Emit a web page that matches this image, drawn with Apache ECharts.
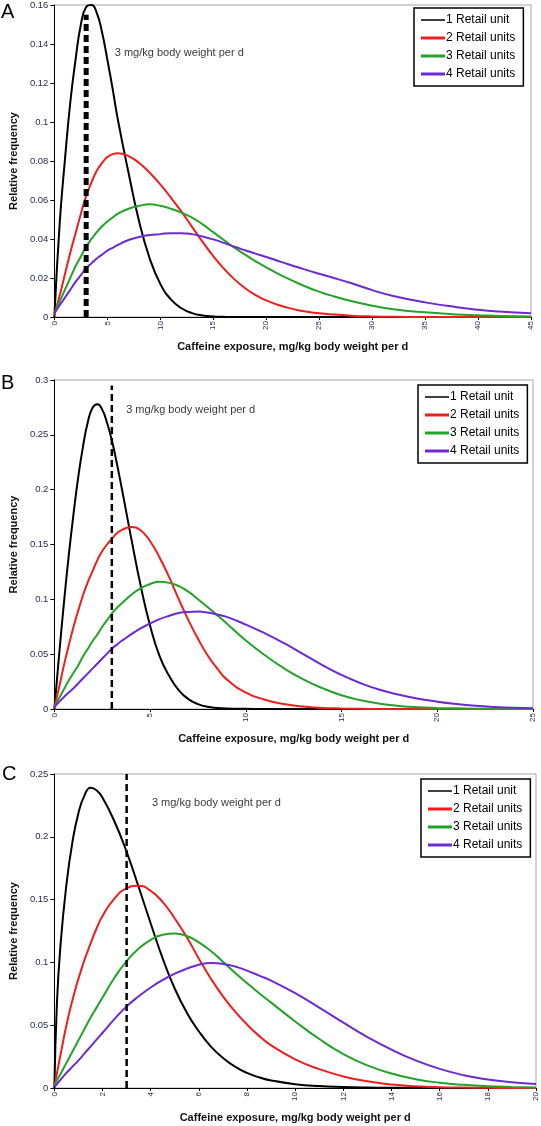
<!DOCTYPE html>
<html>
<head>
<meta charset="utf-8">
<script src="https://cdn.jsdelivr.net/npm/echarts@6/dist/echarts.min.js"></script>
<style>
html,body{margin:0;padding:0;background:#fff;}
#chart{width:541px;height:1126px;}
</style>
</head>
<body>
<div id="chart"></div>
<script>
// ---------------- DATA ----------------
const seriesNames = ['1 Retail unit', '2 Retail units', '3 Retail units', '4 Retail units'];
const panelLetters = ['A', 'B', 'C'];
const xTitle = 'Caffeine exposure, mg/kg body weight per d';
const yTitle = 'Relative frequency';
const refLabel = '3 mg/kg body weight per d';
const refDose = 3;
const refTop = [0.155, 0.295, 0.25];

// Panel A (x: 0-45)
const xA = [0,0.5,1,1.5,2,2.5,3,3.5,4,4.5,5,5.5,6,7,8,9,10,11,12,13,14,15,16,17,18,19,20,21,22,23,24,25,26,28,30,32,35,38,40,42,45];
const a1 = [0,0.048,0.081,0.11,0.132,0.15,0.159,0.16,0.156,0.146,0.132,0.117,0.101,0.074,0.049,0.030,0.017,0.009,0.0045,0.002,0.0008,0.0003,0.0001,0,0,0,0,0,0,0,0,0,0,0,0,0,0,0,0,0,0];
const a2 = [0.001,0.011,0.022,0.033,0.043,0.053,0.062,0.069,0.075,0.079,0.082,0.0835,0.084,0.0825,0.079,0.074,0.068,0.0612,0.054,0.0462,0.0385,0.0312,0.0248,0.0193,0.0148,0.0112,0.0085,0.0064,0.0048,0.0035,0.0026,0.0019,0.0014,0.0007,0.0003,0.0001,0,0,0,0,0];
const a3 = [0.002,0.008,0.014,0.02,0.026,0.031,0.036,0.04,0.0435,0.0465,0.049,0.051,0.053,0.0555,0.057,0.0578,0.057,0.0555,0.0535,0.051,0.0475,0.0435,0.0395,0.0355,0.032,0.0285,0.0255,0.0225,0.0198,0.0173,0.015,0.013,0.0112,0.0082,0.0058,0.004,0.0024,0.0013,0.0009,0.0005,0.0003];
const a4 = [0.002,0.006,0.01,0.014,0.018,0.0215,0.025,0.0275,0.03,0.032,0.034,0.0355,0.037,0.0395,0.041,0.042,0.0425,0.043,0.043,0.0425,0.0413,0.0398,0.038,0.036,0.0342,0.0325,0.0308,0.029,0.0272,0.0255,0.0238,0.0222,0.0206,0.0174,0.0138,0.0108,0.0075,0.005,0.0037,0.0028,0.0019];

// Panel B (x: 0-25)
const xB = [0,0.25,0.5,0.75,1,1.25,1.5,1.75,2,2.25,2.5,2.75,3,3.25,3.5,3.75,4,4.5,5,5.5,6,6.5,7,7.5,8,8.5,9,10,11,12,13,14,15,16,17,18,19,20,21,22,23,24,25];
const b1 = [0,0.05,0.097,0.14,0.178,0.212,0.24,0.262,0.275,0.278,0.273,0.261,0.245,0.225,0.203,0.18,0.157,0.113,0.076,0.048,0.03,0.017,0.009,0.0045,0.002,0.001,0.0005,0.0002,0,0,0,0,0,0,0,0,0,0,0,0,0,0,0];
const b2 = [0.001,0.02,0.04,0.058,0.075,0.09,0.104,0.116,0.126,0.136,0.144,0.15,0.155,0.16,0.163,0.165,0.166,0.163,0.153,0.138,0.12,0.1,0.081,0.064,0.049,0.037,0.027,0.015,0.0085,0.0045,0.0022,0.001,0.0005,0.0002,0,0,0,0,0,0,0,0,0];
const b3 = [0.002,0.01,0.018,0.026,0.033,0.04,0.048,0.055,0.062,0.068,0.075,0.081,0.087,0.092,0.096,0.1,0.104,0.11,0.114,0.116,0.115,0.112,0.107,0.1,0.093,0.0855,0.078,0.0625,0.049,0.037,0.027,0.019,0.0125,0.008,0.0048,0.0028,0.0016,0.001,0.0006,0.0003,0.0002,0.0001,0];
const b4 = [0.002,0.0065,0.011,0.015,0.019,0.0235,0.028,0.0325,0.037,0.0415,0.046,0.0505,0.055,0.0585,0.062,0.065,0.068,0.0735,0.078,0.082,0.085,0.0875,0.0885,0.0888,0.088,0.0862,0.084,0.077,0.069,0.06,0.05,0.04,0.031,0.0235,0.0175,0.013,0.0094,0.0067,0.0046,0.003,0.0019,0.0011,0.0006];

// Panel C (x: 0-20)
const xC = [0,0.1,0.25,0.5,0.75,1,1.25,1.5,1.75,2,2.5,3,3.5,4,4.5,5,5.5,6,6.5,7,7.5,8,8.5,9,10,11,12,13,14,15,16,17,18,19,20];
const c1 = [0,0.065,0.113,0.162,0.196,0.219,0.233,0.239,0.237,0.231,0.212,0.188,0.16,0.131,0.103,0.079,0.06,0.045,0.033,0.024,0.017,0.012,0.0085,0.006,0.003,0.0015,0.0008,0.0004,0.0002,0.0001,0,0,0,0,0];
const c2 = [0.001,0.011,0.026,0.05,0.07,0.087,0.102,0.115,0.127,0.137,0.151,0.159,0.161,0.157,0.148,0.135,0.12,0.103,0.087,0.073,0.061,0.0505,0.0415,0.034,0.0228,0.015,0.0092,0.0053,0.0027,0.0013,0.0006,0.0003,0.0001,0,0];
const c3 = [0.002,0.006,0.011,0.02,0.029,0.038,0.047,0.056,0.064,0.072,0.088,0.101,0.111,0.118,0.122,0.123,0.121,0.116,0.109,0.1005,0.0918,0.0835,0.0755,0.068,0.053,0.039,0.027,0.018,0.0115,0.007,0.0042,0.0025,0.0014,0.0008,0.0004];
const c4 = [0.001,0.003,0.0065,0.012,0.017,0.022,0.0275,0.033,0.0385,0.044,0.055,0.065,0.073,0.08,0.086,0.091,0.095,0.0982,0.0995,0.0988,0.0968,0.0935,0.0895,0.0855,0.0755,0.064,0.052,0.0405,0.0305,0.022,0.0152,0.0102,0.0068,0.0046,0.0032];

// Axis ranges / ticks
const xMax = [45, 25, 20];
const xStep = [5, 5, 2];
const yMax = [0.16, 0.3, 0.25];
const yStep = [0.02, 0.05, 0.05];
// Annotation anchor (data coords)
const annX = [5.7, 3.75, 4.05];
const annY = [0.1355, 0.2726, 0.2269];

// ---------------- STYLE ----------------
const colors = ['#000000', '#f21c1c', '#22a22a', '#6c2ad2'];
const FONT = 'Liberation Sans, Arial, sans-serif';
const grids = [
  {left: 47, top: 4, width: 484, height: 313},
  {left: 47, top: 380, width: 486, height: 329},
  {left: 53, top: 774, width: 483, height: 314}
];
const legendPos = [{left: 414, top: 8}, {left: 418, top: 385}, {left: 421, top: 779}];
const letterPos = [{left: 1, top: 2}, {left: 1, top: 373}, {left: 2, top: 764}];
const dashWidth = [5, 2.5, 2.5];
const yNameGap = [31, 31, 30];
// legend line icons: thin bar for 1 unit, thick bar for the others (box 24x12)
const thinIcon = 'path://M0,0H24V0.01H0Z M0,5.25H24V6.75H0Z M0,11.99H24V12H0Z';
const thickIcon = 'path://M0,0H24V0.01H0Z M0,4.5H24V7.5H0Z M0,11.99H24V12H0Z';

const xs = [xA, xB, xC];
const ys = [[a1, a2, a3, a4], [b1, b2, b3, b4], [c1, c2, c3, c4]];

function zip(x, y) { return x.map((v, i) => [v, y[i]]); }

const option = {
  animation: false,
  backgroundColor: '#fff',
  grid: grids.map(g => Object.assign({show: true, borderColor: '#a0a4a8', borderWidth: 1, backgroundColor: '#fff'}, g)),
  xAxis: grids.map((g, p) => ({
    type: 'value', gridIndex: p, min: 0, max: xMax[p], interval: xStep[p],
    name: xTitle, nameLocation: 'middle', nameGap: 24,
    nameTextStyle: {fontFamily: FONT, fontWeight: 'bold', fontSize: 11, color: '#111'},
    axisLine: {show: true, onZero: false, lineStyle: {color: '#000', width: 1}},
    axisTick: {show: true, length: 3, lineStyle: {color: '#000'}},
    axisLabel: {rotate: 90, fontSize: 8, fontFamily: FONT, color: '#2a2a55', margin: 4},
    splitLine: {show: false}
  })),
  yAxis: grids.map((g, p) => ({
    type: 'value', gridIndex: p, min: 0, max: yMax[p], interval: yStep[p],
    name: yTitle, nameLocation: 'middle', nameGap: yNameGap[p],
    nameTextStyle: {fontFamily: FONT, fontWeight: 'bold', fontSize: 11, color: '#111'},
    axisLine: {show: true, lineStyle: {color: '#000', width: 1}},
    axisTick: {show: true, length: 4, lineStyle: {color: '#000'}},
    axisLabel: {fontSize: 9.5, fontFamily: FONT, color: '#2a2a55', margin: 6},
    splitLine: {show: false}
  })),
  legend: legendPos.map(pos => ({
    left: pos.left, top: pos.top, orient: 'vertical', align: 'left',
    backgroundColor: '#fff', borderColor: '#000', borderWidth: 1.5,
    padding: [6, 8, 6, 7], itemGap: 6, itemWidth: 24, itemHeight: 12,
    selectedMode: false,
    textStyle: {fontFamily: FONT, fontSize: 12, color: '#000', padding: [0, 0, 0, -4]},
    data: seriesNames.map((n, k) => ({name: n, icon: k === 0 ? thinIcon : thickIcon, itemStyle: {color: colors[k]}}))
  })),
  graphic: letterPos.map((pos, p) => ({
    type: 'text', left: pos.left, top: pos.top,
    style: {text: panelLetters[p], font: '20px ' + FONT, fill: '#000'}
  })),
  series: []
};

for (let p = 0; p < 3; p++) {
  for (let k = 0; k < 4; k++) {
    option.series.push({
      type: 'line', name: seriesNames[k], xAxisIndex: p, yAxisIndex: p,
      data: zip(xs[p], ys[p][k]),
      symbol: 'none', smooth: 0.5,
      lineStyle: {color: colors[k], width: 2},
      itemStyle: {color: colors[k]},
      z: 3 + k, silent: true
    });
  }
  option.series.push({
    type: 'line', name: 'ref' + p, xAxisIndex: p, yAxisIndex: p,
    data: [[refDose, 0], [refDose, refTop[p]]],
    symbol: 'none',
    lineStyle: {color: '#000', width: dashWidth[p], type: [7, 4]},
    z: 10, silent: true
  });
  option.series.push({
    type: 'scatter', name: 'ann' + p, xAxisIndex: p, yAxisIndex: p,
    data: [[annX[p], annY[p]]], symbolSize: 0, silent: true,
    label: {show: true, position: 'right', distance: 0, formatter: refLabel,
      fontFamily: FONT, fontSize: 11, color: '#000'},
    z: 11
  });
}

const chart = echarts.init(document.getElementById('chart'), null, {renderer: 'canvas'});
chart.setOption(option);
</script>
</body>
</html>
